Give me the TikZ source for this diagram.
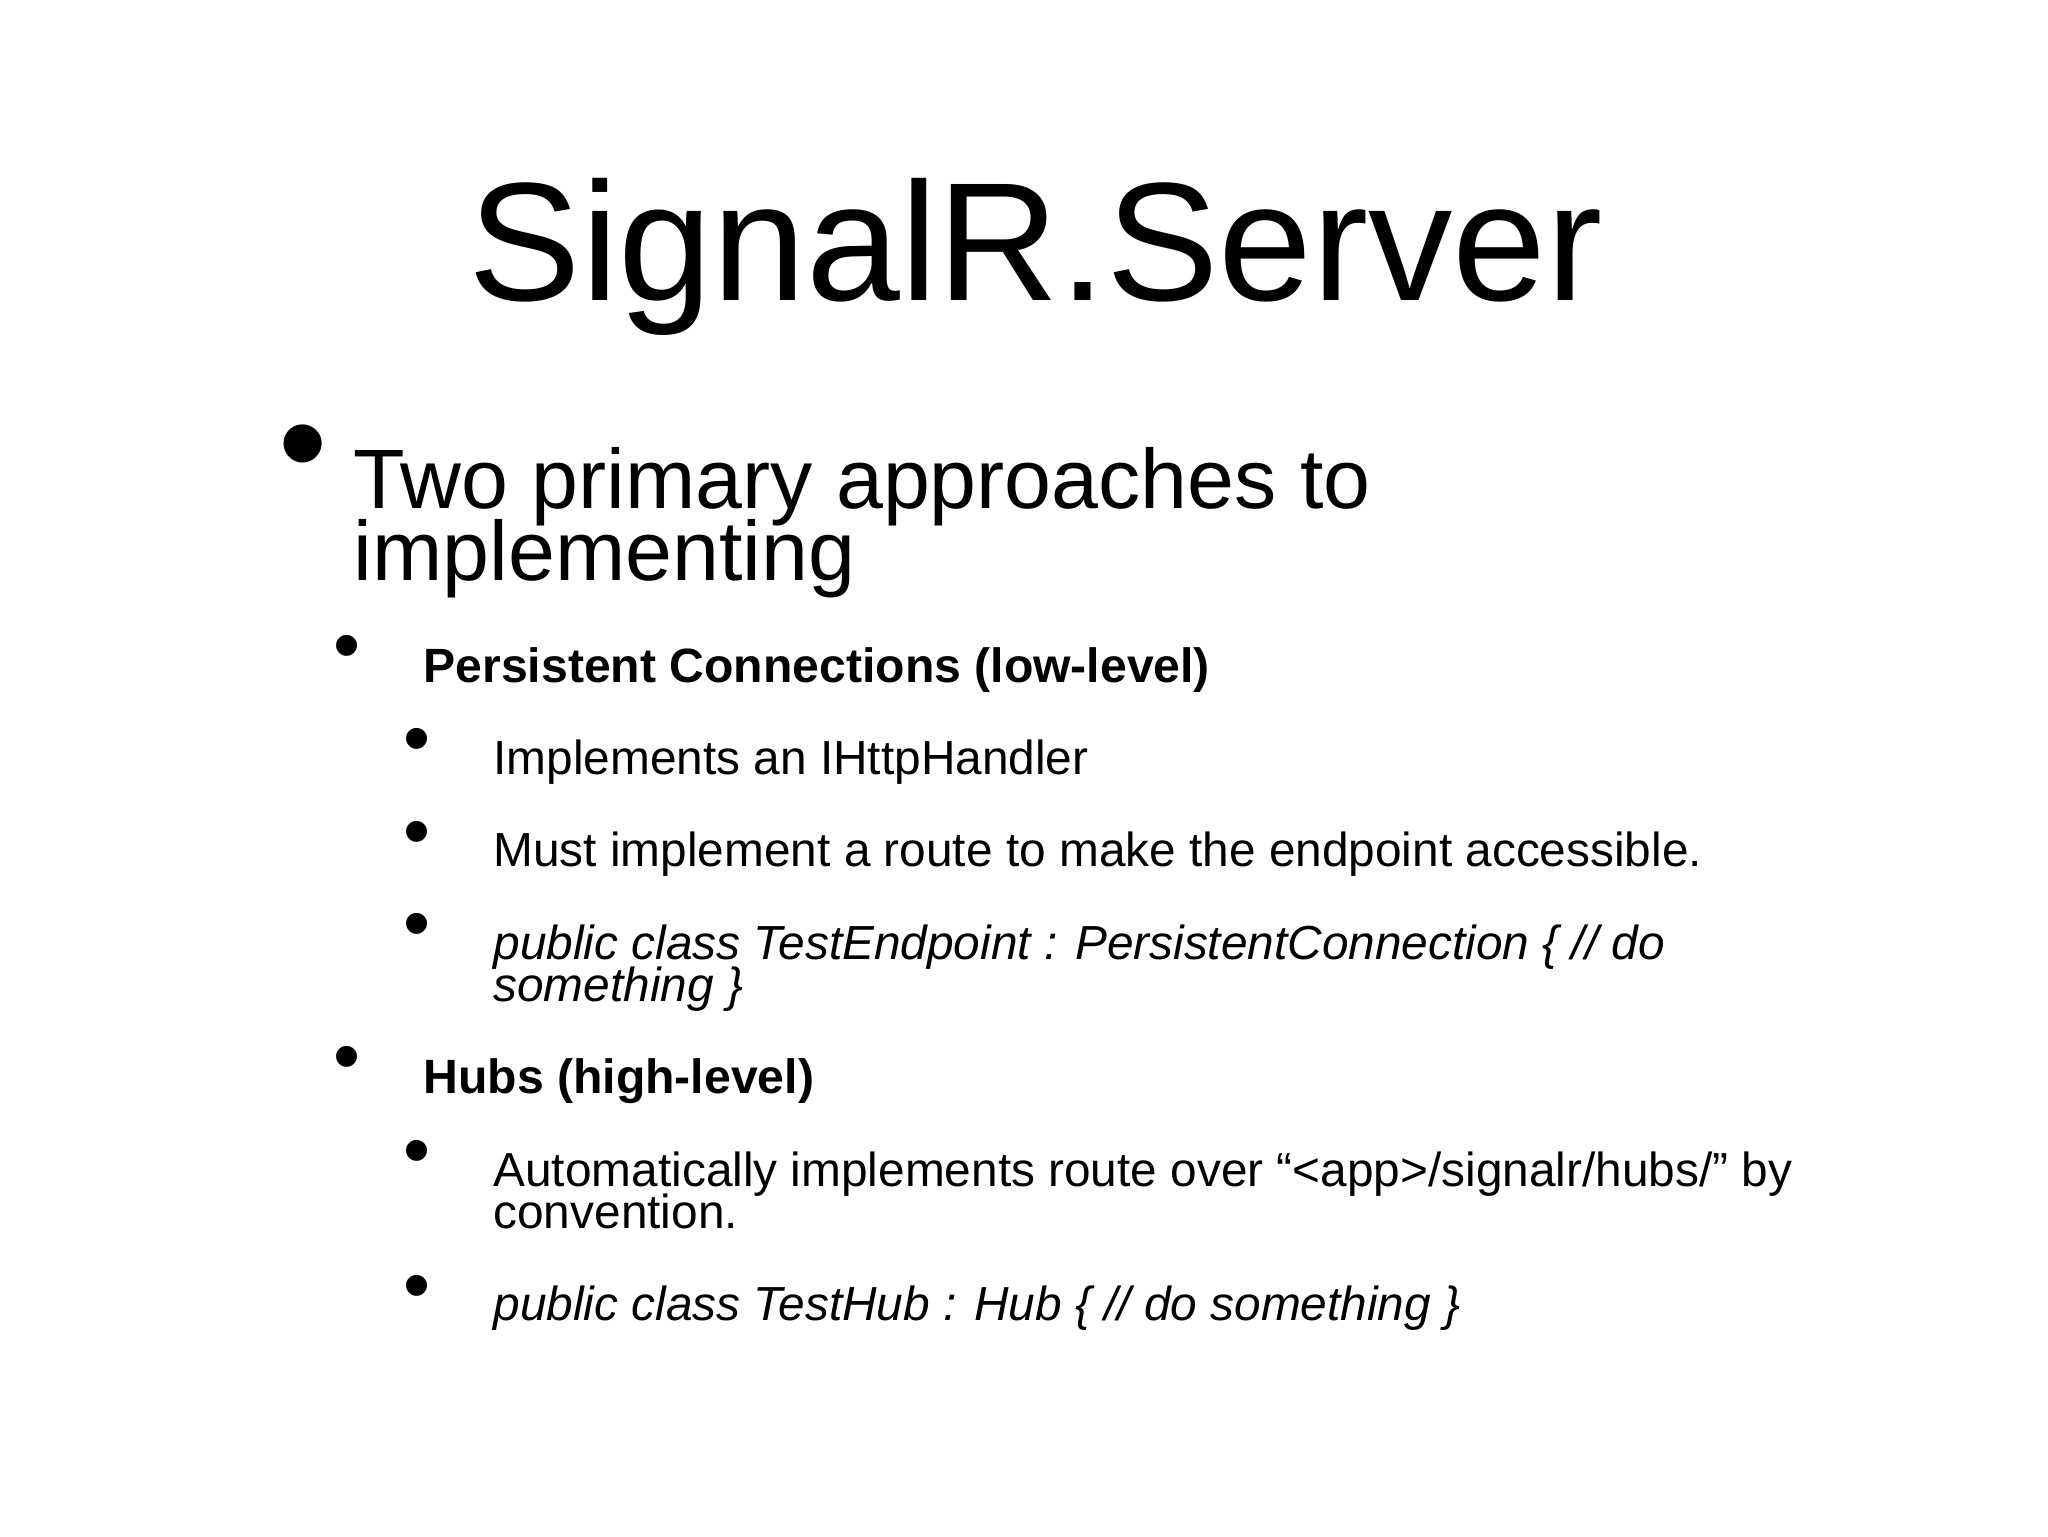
\documentclass[tikz,border=0pt]{standalone}
\usepackage{fontspec}
\setmainfont{Liberation Sans}
\begin{document}
\begin{tikzpicture}[x=0.013196cm,y=-0.013196cm,
  every node/.style={inner sep=0pt,outer sep=0pt},
  line/.style={anchor=base west},
  dot/.style={anchor=center}]

  % page
  \useasboundingbox (0,0) rectangle (1552,1164);

  % title
  \node[anchor=base] (title) at (785,228) {\fontsize{48}{48}\selectfont SignalR.Server};

  % first level
  \node[dot] (b1) at (230,347) {\fontsize{40}{40}\selectfont\textbullet};
  \node[line] (two) at (268,385) {\fontsize{24}{24}\selectfont Two primary approaches to};
  \node[line] (two2) at (268,440) {\fontsize{24}{24}\selectfont implementing};

  % second level
  \node[dot] (b2) at (263,495) {\fontsize{22}{22}\selectfont\textbullet};
  \node[line] (pc) at (321,517) {\fontsize{13.7}{14}\selectfont\bfseries Persistent Connections (low-level)};
  \node[dot] (b5) at (263,807) {\fontsize{22}{22}\selectfont\textbullet};
  \node[line] (hubs) at (321,829) {\fontsize{13.7}{14}\selectfont\bfseries Hubs (high-level)};

  % third level
  \foreach \y/\n in {566/b3,636/b4,706/b6,878/b7,980/b8}
    \node[dot] (\n) at (316,\y) {\fontsize{22}{22}\selectfont\textbullet};
  \node[line] (impl) at (374,587) {\fontsize{13.6}{14}\selectfont Implements an IHttpHandler};
  \node[line] (must) at (374,657) {\fontsize{13.6}{14}\selectfont Must implement a route to make the endpoint accessible.};
  \node[line] (pce) at (374,727) {\fontsize{13.6}{14}\selectfont\itshape public class TestEndpoint : PersistentConnection \{ // do};
  \node[line] (pce2) at (374,759) {\fontsize{13.6}{14}\selectfont\itshape something \}};
  \node[line] (auto) at (374,899) {\fontsize{13.6}{14}\selectfont Automatically implements route over “<app>/signalr/hubs/” by};
  \node[line] (auto2) at (374,931) {\fontsize{13.6}{14}\selectfont convention.};
  \node[line] (hub) at (374,1001) {\fontsize{13.6}{14}\selectfont\itshape public class TestHub : Hub \{ // do something \}};
\end{tikzpicture}
\end{document}
